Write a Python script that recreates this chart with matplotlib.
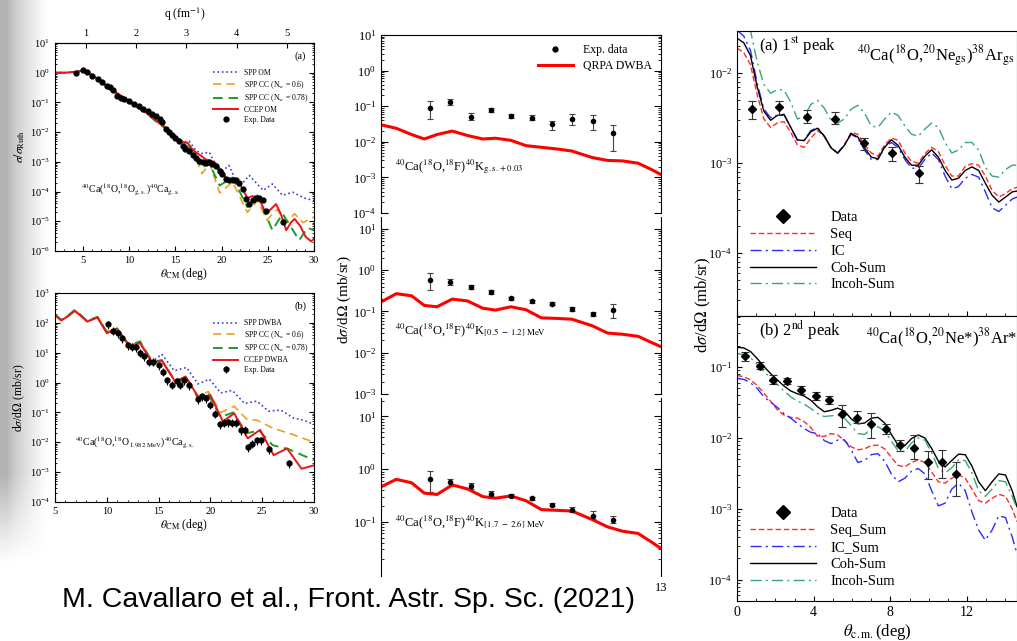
import matplotlib
matplotlib.use('Agg')
import numpy as np
import matplotlib.pyplot as plt
from matplotlib.lines import Line2D
from matplotlib.ticker import LogLocator, NullFormatter, MultipleLocator, FixedLocator

W, H = 1017, 641

# ---------------- left (a): elastic 40Ca(18O,18O)40Ca ----------------
a_exp_th = [4.3, 5.0, 5.5, 6.0, 6.6, 7.1, 7.6, 7.9, 8.3, 8.7, 9.1, 9.5, 10.0, 10.5, 11.1, 11.5,
            12.0, 12.5, 12.9, 13.3, 13.6, 14.0, 14.3, 14.7, 15.0, 15.4, 15.8, 16.1, 16.5, 16.9,
            17.2, 17.6, 18.0, 18.3, 18.7, 19.0, 19.4, 19.8, 20.1, 20.5, 20.8, 21.2, 21.6, 21.9,
            22.3, 22.7, 23.0, 23.4, 23.7, 24.1, 24.5, 24.8, 26.6]
a_exp_val = [0.98, 1.2, 1.05, 0.78, 0.63, 0.49, 0.35, 0.32, 0.26, 0.17, 0.14, 0.13, 0.11, 0.09,
             0.074, 0.062, 0.05, 0.042, 0.034, 0.028, 0.022, 0.013, 0.0099, 0.008, 0.0064, 0.005,
             0.0033, 0.0028, 0.0023, 0.0017, 0.0013, 0.0011, 0.001, 0.00093, 0.001, 0.00087,
             0.0007, 0.0005, 0.00039, 0.00027, 0.00024, 0.00024, 0.00025, 0.0002, 0.00012,
             5.6e-5, 3.8e-5, 5.2e-5, 6e-5, 6e-5, 5.2e-5, 2.3e-5, 9.4e-6]

a_red_th = [2, 3, 4, 4.5, 5, 5.5, 6, 7, 8, 9, 10, 11, 12, 13, 14, 15, 15.7, 16.3, 16.8, 17.3,
            17.8, 18.3, 18.8, 19.3, 19.8, 20.3, 20.8, 21.3, 21.8, 22.3, 22.8, 23.3, 23.8, 24.3,
            24.8, 25.3, 25.9, 26.4, 27.0, 27.5, 27.9, 28.5, 29.1, 29.7, 30]
a_red_val = [1.0, 1.0, 1.05, 1.1, 1.2, 1.1, 0.85, 0.5, 0.3, 0.18, 0.11, 0.07, 0.042, 0.024,
             0.014, 0.0075, 0.0048, 0.0045, 0.0028, 0.002, 0.0016, 0.0012, 0.0011, 0.00095,
             0.0006, 0.00035, 0.00022, 0.00025, 0.00022, 0.00012, 6e-5, 7e-5, 6.5e-5, 4e-5,
             1.8e-5, 2.5e-5, 3.8e-5, 1.8e-5, 5e-6, 9e-6, 1.2e-5, 7e-6, 3e-6, 2.1e-6, 2.6e-6]

a_common_th = [2, 3, 4, 4.5, 5, 5.5, 6, 7, 8, 9, 10, 11, 12, 13, 14, 15, 16]
a_common_val = [1.0, 1.0, 1.05, 1.1, 1.15, 1.05, 0.8, 0.47, 0.28, 0.17, 0.1, 0.065, 0.04,
                0.022, 0.013, 0.007, 0.004]
a_blue_th = [16.5, 17.2, 17.8, 18.7, 19.8, 20.8, 21.9, 23.0, 24.5, 25.5, 26.6, 27.7, 29.0, 30]
a_blue_val = [5e-3, 2.5e-3, 1.9e-3, 2.1e-3, 4e-4, 7.6e-4, 1.4e-4, 3.5e-4, 1.1e-4, 1.8e-4,
              7.5e-5, 9.5e-5, 6e-5, 5e-5]
a_orange_th = [17.0, 17.9, 18.7, 19.8, 21.2, 22.8, 23.9, 24.9, 26.0, 27.0, 27.9, 28.8, 30]
a_orange_val = [2e-3, 4e-4, 9e-4, 9e-5, 2.1e-4, 2e-5, 5e-5, 1.1e-5, 2.5e-5, 9e-6, 1.8e-5,
                9e-6, 1.4e-5]
a_green_th = [17.0, 17.9, 18.6, 19.8, 21.2, 22.8, 23.9, 25.5, 26.6, 28.4, 29.3, 30]
a_green_val = [2.2e-3, 6e-4, 1e-3, 1.6e-4, 3e-4, 3e-5, 7.5e-5, 5e-6, 1.8e-5, 2.3e-6, 6e-6, 5e-6]

# ---------------- left (b): inelastic 18O 1.982 MeV ----------------
b_exp_th = [10.1, 10.6, 11.1, 11.5, 12.0, 12.4, 12.8, 13.2, 13.6, 14.1, 14.5, 15.0, 15.4, 15.8,
            16.3, 16.8, 17.1, 17.5, 17.9, 18.8, 19.2, 19.6, 20.0, 20.4, 20.9, 21.3, 21.7, 22.1,
            22.5, 23.0, 23.3, 23.6, 24.0, 24.5, 24.9, 25.7, 27.6]
b_exp_val = [90, 55, 45, 30, 18, 16, 15, 10, 7.5, 5, 5, 3.8, 2.3, 1.2, 0.85, 1.1, 0.85, 1.2,
             0.8, 0.28, 0.35, 0.3, 0.18, 0.09, 0.04, 0.045, 0.046, 0.045, 0.045, 0.025, 0.026,
             0.007, 0.009, 0.012, 0.012, 0.006, 0.002]
b_red_th = [5.0, 5.6, 6.3, 6.9, 7.5, 8.1, 9.1, 10.0, 11.0, 12.2, 13.2, 14.4, 15.3, 16.6, 17.6,
            18.9, 20.0, 21.2, 22.3, 23.6, 24.8, 26.1, 27.4, 28.8, 30]
b_red_val = [180, 120, 170, 250, 170, 110, 150, 45, 62, 16, 21, 4.5, 5.5, 1.07, 1.6, 0.3,
             0.38, 0.05, 0.093, 0.0135, 0.026, 0.0037, 0.0062, 0.0013, 0.0017]
b_common_th = [5.0, 5.6, 6.3, 6.9, 7.5, 8.1, 9.1, 10.0, 11.0, 12.2, 13.2, 14.4]
b_common_val = [190, 125, 180, 270, 180, 115, 160, 50, 65, 17, 24, 5.0]
b_blue_th = [15.3, 16.5, 17.7, 18.8, 19.9, 21.0, 22.1, 23.3, 24.5, 25.6, 26.8, 28.0, 29.0, 30]
b_blue_val = [9, 2.5, 3.2, 0.9, 1.3, 0.45, 0.55, 0.2, 0.24, 0.11, 0.12, 0.065, 0.055, 0.04]
b_orange_th = [15.3, 16.6, 17.7, 18.8, 19.8, 21.0, 22.3, 23.5, 24.5, 26.0, 28.0, 30]
b_orange_val = [5.8, 1.2, 1.5, 0.35, 0.5, 0.1, 0.16, 0.06, 0.055, 0.03, 0.018, 0.01]
b_green_th = [15.3, 16.6, 17.7, 18.8, 19.8, 21.0, 22.2, 23.5, 24.7, 26.0, 27.5, 30]
b_green_val = [5.6, 1.1, 1.4, 0.3, 0.4, 0.07, 0.1, 0.02, 0.025, 0.008, 0.006, 0.0025]

# ---------------- middle: single charge exchange 40Ca(18O,18F)40K ----------------
m_th = [3.92, 4.72, 5.52, 6.32, 7.12, 7.92, 8.72, 9.52, 10.32, 11.12]
m1_val = [0.091, 0.13, 0.051, 0.077, 0.053, 0.047, 0.031, 0.043, 0.038, 0.018]
m1_lo = [0.045, 0.11, 0.04, 0.068, 0.046, 0.04, 0.021, 0.03, 0.022, 0.0055]
m1_hi = [0.14, 0.16, 0.065, 0.09, 0.062, 0.056, 0.039, 0.06, 0.055, 0.03]
m2_val = [0.59, 0.52, 0.39, 0.30, 0.21, 0.18, 0.156, 0.114, 0.086, 0.11]
m2_lo = [0.33, 0.43, 0.35, 0.27, 0.195, 0.165, 0.145, 0.10, 0.076, 0.068]
m2_hi = [0.86, 0.63, 0.43, 0.33, 0.23, 0.195, 0.17, 0.13, 0.097, 0.15]
m3_val = [0.66, 0.57, 0.48, 0.34, 0.31, 0.28, 0.21, 0.17, 0.13, 0.11]
m3_lo = [0.37, 0.48, 0.42, 0.31, 0.29, 0.26, 0.195, 0.155, 0.115, 0.095]
m3_hi = [0.93, 0.66, 0.54, 0.38, 0.33, 0.30, 0.23, 0.19, 0.16, 0.13]

m_curve_th = [2.0, 2.6, 3.2, 3.7, 4.2, 4.8, 5.4, 6.0, 6.5, 7.1, 7.7, 8.3, 8.9, 9.5, 10.3, 10.9,
              11.5, 12.1, 12.6, 13.0]
m1_curve = [0.03, 0.024, 0.016, 0.012, 0.016, 0.02, 0.015, 0.012, 0.0126, 0.011, 0.0078,
            0.007, 0.0063, 0.0055, 0.0036, 0.003, 0.0029, 0.0025, 0.0017, 0.0012]
m2_curve = [0.17, 0.27, 0.24, 0.14, 0.13, 0.2, 0.18, 0.12, 0.108, 0.13, 0.11, 0.07, 0.068,
            0.065, 0.045, 0.03, 0.028, 0.025, 0.018, 0.014]
m3_curve = [0.46, 0.64, 0.55, 0.35, 0.33, 0.5, 0.42, 0.3, 0.28, 0.31, 0.25, 0.17, 0.165,
            0.16, 0.11, 0.08, 0.066, 0.06, 0.042, 0.031]

# ---------------- right: DCE 40Ca(18O,20Ne)38Ar ----------------
r_th = [0.0, 0.35, 0.7, 1.05, 1.4, 1.75, 2.1, 2.45, 2.8, 3.15, 3.5, 3.85, 4.2, 4.55, 4.9,
        5.25, 5.6, 5.95, 6.3, 6.65, 7.0, 7.35, 7.7, 8.05, 8.4, 8.75, 9.1, 9.45, 9.8, 10.15,
        10.5, 10.85, 11.2, 11.55, 11.9, 12.25, 12.6, 12.95, 13.3, 13.65, 14.0, 14.35, 14.6]
# (a) 1st peak
ra_coh = [0.0245, 0.0219, 0.0158, 0.0071, 0.0038, 0.0030, 0.0034, 0.00347, 0.00251, 0.00182,
          0.00178, 0.00224, 0.00245, 0.0020, 0.00148, 0.00129, 0.00158, 0.00214, 0.00195,
          0.00148, 0.00117, 0.00112, 0.00151, 0.00182, 0.00158, 0.00117, 0.00095, 0.00095,
          0.0012, 0.00141, 0.00117, 0.00083, 0.00065, 0.00068, 0.00083, 0.00091, 0.00083,
          0.0006, 0.00044, 0.00037, 0.00042, 0.00048, 0.00049]
ra_seq = [0.019, 0.017, 0.0125, 0.0058, 0.0031, 0.0025, 0.0028, 0.0029, 0.0022, 0.0016,
          0.0015, 0.0019, 0.0023, 0.0020, 0.0015, 0.0013, 0.0016, 0.0022, 0.0021, 0.0016,
          0.0013, 0.0012, 0.0016, 0.0019, 0.0018, 0.0013, 0.00105, 0.001, 0.00128, 0.0015,
          0.00135, 0.00095, 0.00072, 0.00072, 0.00092, 0.00099, 0.00095, 0.00072, 0.0005,
          0.00042, 0.00046, 0.00052, 0.00054]
ra_ic = [0.03, 0.026, 0.018, 0.0078, 0.0040, 0.0032, 0.0034, 0.0035, 0.0025, 0.0018, 0.0018,
         0.0023, 0.0025, 0.0020, 0.0015, 0.0013, 0.0016, 0.0021, 0.0019, 0.0014, 0.0011,
         0.0011, 0.0015, 0.0017, 0.0015, 0.0011, 0.00088, 0.00088, 0.0011, 0.0013, 0.0011,
         0.00072, 0.00052, 0.00055, 0.00068, 0.00075, 0.0007, 0.00048, 0.00032, 0.00029,
         0.00034, 0.0004, 0.00042]
ra_incoh = [0.05, 0.042, 0.03, 0.0135, 0.0075, 0.006, 0.0066, 0.0065, 0.0048, 0.0031, 0.0033,
            0.0045, 0.005, 0.0041, 0.003, 0.0028, 0.0031, 0.004, 0.0044, 0.0036, 0.0026,
            0.0025, 0.0031, 0.0037, 0.0034, 0.0026, 0.0021, 0.002, 0.0024, 0.0028, 0.0025,
            0.0017, 0.0013, 0.0014, 0.0017, 0.0017, 0.0014, 0.0009, 0.00072, 0.0007, 0.00085,
            0.00095, 0.00095]
ra_exp_th = [0.77, 2.2, 3.65, 5.1, 6.6, 8.07, 9.5]
ra_exp_val = [0.0040, 0.0042, 0.0033, 0.0031, 0.00167, 0.0013, 0.00077]
ra_exp_lo = [0.0031, 0.0034, 0.0028, 0.0027, 0.0014, 0.00106, 0.0006]
ra_exp_hi = [0.0049, 0.0049, 0.0039, 0.0037, 0.0019, 0.0015, 0.00093]

# (b) 2nd peak
rb_coh = [0.19, 0.186, 0.166, 0.132, 0.102, 0.081, 0.066, 0.054, 0.046, 0.042, 0.039, 0.034,
          0.0275, 0.0234, 0.0245, 0.0263, 0.024, 0.0186, 0.0158, 0.0162, 0.019, 0.0195, 0.0162,
          0.0112, 0.0079, 0.0078, 0.0098, 0.011, 0.01, 0.0071, 0.0047, 0.0039, 0.0048, 0.0059,
          0.0058, 0.004, 0.0024, 0.0018, 0.0024, 0.0031, 0.003, 0.0018, 0.00107]
rb_incoh = [0.155, 0.15, 0.135, 0.11, 0.087, 0.07, 0.057, 0.046, 0.038, 0.033, 0.03, 0.026,
            0.022, 0.02, 0.0205, 0.021, 0.019, 0.015, 0.0115, 0.0112, 0.0135, 0.0144, 0.0125,
            0.009, 0.0066, 0.0064, 0.0085, 0.01, 0.0093, 0.0062, 0.0037, 0.0032, 0.0038,
            0.0049, 0.0048, 0.0032, 0.0018, 0.0015, 0.0019, 0.0025, 0.0024, 0.0015, 0.001]
rb_seq = [0.076, 0.073, 0.066, 0.055, 0.043, 0.033, 0.025, 0.021, 0.0195, 0.019, 0.017, 0.014,
          0.0105, 0.0105, 0.0115, 0.011, 0.0092, 0.0075, 0.0068, 0.007, 0.0078, 0.0079, 0.007,
          0.0053, 0.0041, 0.0039, 0.0045, 0.0049, 0.0045, 0.0033, 0.0024, 0.0023, 0.0027,
          0.003, 0.0027, 0.0019, 0.0013, 0.0012, 0.0014, 0.0016, 0.0015, 0.001, 0.00066]
rb_ic = [0.069, 0.067, 0.06, 0.05, 0.038, 0.032, 0.027, 0.022, 0.019, 0.016, 0.0135, 0.012,
         0.0115, 0.0092, 0.0083, 0.0093, 0.0094, 0.0068, 0.0045, 0.0048, 0.0058, 0.006, 0.0047,
         0.0031, 0.0024, 0.0027, 0.0034, 0.0037, 0.0031, 0.0018, 0.0011, 0.0012, 0.0019,
         0.0023, 0.0018, 0.0009, 0.0005, 0.00036, 0.0005, 0.0008, 0.00075, 0.0004, 0.00023]
rb_exp_th = [0.4, 1.18, 1.88, 2.6, 3.35, 4.1, 4.8, 5.5, 6.25, 7.0, 7.75, 8.5, 9.25, 9.95,
             10.7, 11.4]
rb_exp_val = [0.141, 0.105, 0.066, 0.063, 0.047, 0.039, 0.034, 0.0216, 0.019, 0.0156, 0.0135,
              0.0079, 0.0073, 0.0045, 0.0046, 0.0031]
rb_exp_lo = [0.123, 0.095, 0.057, 0.057, 0.041, 0.034, 0.030, 0.0143, 0.016, 0.0101, 0.0115,
             0.0065, 0.0050, 0.0026, 0.0027, 0.0015]
rb_exp_hi = [0.162, 0.116, 0.078, 0.071, 0.054, 0.044, 0.039, 0.029, 0.024, 0.0225, 0.0157,
             0.0092, 0.0109, 0.0066, 0.0068, 0.0045]

plt.rcParams['font.family'] = ['Liberation Serif', 'DejaVu Serif']
plt.rcParams['mathtext.fontset'] = 'stix'


def box(x0, y0, x1, y1):
    # pixel box (top-left origin) -> figure fraction rect
    return [x0 / W, 1 - y1 / H, (x1 - x0) / W, (y1 - y0) / H]


def ftxt(x, y, s, **kw):
    fig.text(x / W, 1 - y / H, s, **kw)


def log_ticks(ax, size, both=False, minor_len=2.0):
    ax.set_yscale('log')
    ax.yaxis.set_major_locator(LogLocator(base=10, numticks=20))
    ax.yaxis.set_minor_locator(LogLocator(base=10, subs=np.arange(2, 10), numticks=20))
    ax.yaxis.set_minor_formatter(NullFormatter())
    ax.tick_params(which='both', direction='in', labelsize=size, right=both)
    ax.tick_params(which='minor', length=minor_len)


def errs(val, lo, hi):
    v = np.array(val)
    return [v - np.array(lo), np.array(hi) - v]


fig = plt.figure(figsize=(W / 100, H / 100), dpi=100)

# shadow on the left edge of the slide
gax = fig.add_axes([0, 0, 48 / W, 1])
gx = np.linspace(0, 1, 60)
gy = np.linspace(0, 1, 200)
shade = (0.70 + 0.30 * np.clip((gx - 0.15) / 0.85, 0, 1) ** 0.7)[None, :]
shade = shade + (1 - shade) * np.clip((0.26 - gy) / 0.14, 0, 1)[:, None]
gax.imshow(shade, cmap='gray', vmin=0, vmax=1, aspect='auto', extent=[0, 1, 0, 1],
           origin='lower')
gax.axis('off')

blue_c, orange_c, green_c, red_c = '#3b3bd8', '#f0a020', '#1e9a2a', '#e8141a'

# ---- left (a)
ax = fig.add_axes(box(55, 43, 314, 251))
ax.plot(a_common_th + a_blue_th, a_common_val + a_blue_val, ':', color=blue_c, lw=1.2,
        label='SPP OM')
ax.plot(a_common_th + a_orange_th, a_common_val + a_orange_val, '--', color=orange_c, lw=1.2,
        dashes=(5, 3), label=r'SPP CC (N$_{\rm w}$ = 0.6)')
ax.plot(a_common_th + a_green_th, a_common_val + a_green_val, '--', color=green_c, lw=1.4,
        dashes=(5, 3), label=r'SPP CC (N$_{\rm w}$ = 0.78)')
ax.plot(a_red_th, a_red_val, '-', color=red_c, lw=1.4, label='CCEP OM')
ax.plot(a_exp_th, a_exp_val, 'o', color='black', ms=3.5, label='Exp. Data')
log_ticks(ax, 7.5, both=True, minor_len=1.5)
ax.set_xlim(2, 30)
ax.set_ylim(1e-6, 1e1)
ax.xaxis.set_minor_locator(MultipleLocator(1))
ax.tick_params(axis='x', which='both', top=False)
ax.set_xticks([5, 10, 15, 20, 25, 30])
ax.legend(loc='upper right', bbox_to_anchor=(1.0, 0.9), fontsize=5.5, frameon=False,
          handlelength=3.2, labelspacing=0.25, borderpad=0.2)
ax.text(0.97, 0.96, '(a)', transform=ax.transAxes, ha='right', va='top', fontsize=7.5)
ax.text(0.1, 0.28, r'$^{40}$Ca($^{18}$O,$^{18}$O$_{\rm g.s.}$)$^{40}$Ca$_{\rm g.s.}$',
        transform=ax.transAxes, fontsize=7)
qax = ax.secondary_xaxis('top', functions=(lambda t: t / 5.45 + 0.027,
                                            lambda q: (q - 0.027) * 5.45))
qax.set_xticks([1, 2, 3, 4, 5])
qax.tick_params(direction='in', labelsize=7.5)
qax.set_xlabel(r'q (fm$^{-1}$)', fontsize=8.5, labelpad=8)
ax.set_xlabel(r'$\theta_{\rm CM}$ (deg)', fontsize=8.5, labelpad=1)
ax.set_ylabel(r'$\sigma/\sigma_{\rm Ruth}$', fontsize=8.5, labelpad=2)

# ---- left (b)
ax = fig.add_axes(box(55, 293, 314, 502))
ax.plot(b_common_th + b_blue_th, b_common_val + b_blue_val, ':', color=blue_c, lw=1.2,
        label='SPP DWBA')
ax.plot(b_common_th + b_orange_th, b_common_val + b_orange_val, '--', color=orange_c,
        lw=1.2, dashes=(5, 3), label=r'SPP CC (N$_{\rm w}$ = 0.6)')
ax.plot(b_common_th + b_green_th, b_common_val + b_green_val, '--', color=green_c,
        lw=1.4, dashes=(5, 3), label=r'SPP CC (N$_{\rm w}$ = 0.78)')
ax.plot(b_red_th, b_red_val, '-', color=red_c, lw=1.4, label='CCEP DWBA')
ax.errorbar(b_exp_th, b_exp_val, yerr=[np.array(b_exp_val) * 0.3, np.array(b_exp_val) * 0.3],
            fmt='o', color='black', ms=3.5, elinewidth=0.8, capsize=0, label='Exp. Data')
log_ticks(ax, 7.5, both=True, minor_len=1.5)
ax.set_xlim(5, 30)
ax.set_ylim(1e-4, 1e3)
ax.xaxis.set_minor_locator(MultipleLocator(1))
ax.set_xticks([5, 10, 15, 20, 25, 30])
ax.legend(loc='upper right', bbox_to_anchor=(1.0, 0.9), fontsize=5.5, frameon=False,
          handlelength=3.2, labelspacing=0.25, borderpad=0.2)
ax.text(0.97, 0.96, '(b)', transform=ax.transAxes, ha='right', va='top', fontsize=7.5)
ax.text(0.077, 0.27,
        r'$^{40}$Ca($^{18}$O,$^{18}$O$_{\,1.982\ \rm MeV}$)$^{40}$Ca$_{\rm g.s.}$',
        transform=ax.transAxes, fontsize=7)
ax.set_xlabel(r'$\theta_{\rm CM}$ (deg)', fontsize=8.5, labelpad=1)
ax.set_ylabel(r'd$\sigma$/d$\Omega$ (mb/sr)', fontsize=8.5, labelpad=2)

# ---- middle column
mid = [(box(381, 35, 661, 213), (1e-4, 1e1), m1_val, m1_lo, m1_hi, m1_curve,
        r'$^{40}$Ca($^{18}$O,$^{18}$F)$^{40}$K$_{\rm g.s. + 0.03}$', 167),
       (box(381, 217, 661, 394), (1e-3, 10 ** 1.29), m2_val, m2_lo, m2_hi, m2_curve,
        r'$^{40}$Ca($^{18}$O,$^{18}$F)$^{40}$K$_{[0.5\ -\ 1.2]\ \rm MeV}$', 330),
       (box(381, 398, 661, 576), (10 ** -2.03, 10 ** 1.35), m3_val, m3_lo, m3_hi, m3_curve,
        r'$^{40}$Ca($^{18}$O,$^{18}$F)$^{40}$K$_{[1.7\ -\ 2.6]\ \rm MeV}$', 522)]
for i, (rect, ylim, val, lo, hi, curve, lab, ty) in enumerate(mid):
    ax = fig.add_axes(rect)
    ax.errorbar(m_th, val, yerr=errs(val, lo, hi), fmt='o', color='black', ms=3,
                elinewidth=0.8, ecolor='#444444', capsize=2, capthick=0.8)
    ax.plot(m_curve_th, curve, '-', color='#ff0000', lw=2.2)
    log_ticks(ax, 9, both=True, minor_len=2.5)
    ax.tick_params(which='major', length=5)
    ax.set_xlim(2, 13)
    ax.set_ylim(*ylim)
    ax.spines['bottom'].set_visible(False)
    if i > 0:
        ax.spines['top'].set_visible(False)
    if i < 2:
        ax.set_xticks([])
    else:
        # lower part of this panel is hidden behind the caption on the slide
        ax.yaxis.set_major_locator(FixedLocator([0.1, 1, 10]))
        ax.yaxis.set_minor_locator(FixedLocator(
            [k * 10.0 ** e for e in (-2, -1, 0, 1) for k in range(2, 10)
             if 0.018 < k * 10.0 ** e < ylim[1]]))
        ax.set_xticks([13])
        ax.tick_params(axis='x', length=0, labelsize=9, pad=4)
    if i == 0:
        hd = [Line2D([], [], marker='o', ls='none', color='black', ms=3.5),
              Line2D([], [], color='#ff0000', lw=2.2)]
        ax.legend(hd, ['Exp. data', 'QRPA DWBA'], loc='upper right', fontsize=8.5,
                  frameon=False, handlelength=3, borderpad=0.3, labelspacing=0.3)
    ftxt(395, ty, lab, fontsize=9, va='center')
ftxt(344, 300, r'd$\sigma$/d$\Omega$ (mb/sr)', fontsize=11, rotation=90, ha='center',
     va='center')

# ---- right column
rx = (0, 14.6)
data_h = Line2D([], [], marker='D', ls='none', color='black', ms=7)
dd = (8, 3, 1.5, 3)

ax = fig.add_axes(box(737, 31, 1017, 316))
ax.plot(r_th, ra_seq, '--', color='#ff2a2a', lw=1.0, dashes=(4, 2), label='Seq')
ax.plot(r_th, ra_ic, '-.', color='#2a2aff', lw=1.0, dashes=dd, label='IC')
ax.plot(r_th, ra_coh, '-', color='black', lw=1.0, label='Coh-Sum')
ax.plot(r_th, ra_incoh, '-.', color='#3aa870', lw=1.0, dashes=dd, label='Incoh-Sum')
ax.errorbar(ra_exp_th, ra_exp_val, yerr=errs(ra_exp_val, ra_exp_lo, ra_exp_hi), fmt='D',
            color='black', ms=4, elinewidth=0.8, ecolor='#333333', capsize=3, capthick=0.8)
log_ticks(ax, 9, minor_len=2.5)
ax.set_xlim(*rx)
ax.set_ylim(2e-5, 10 ** -1.53)
ax.xaxis.set_major_locator(MultipleLocator(4))
ax.xaxis.set_minor_locator(MultipleLocator(1))
ax.tick_params(axis='x', which='both', labelbottom=False)
h, l = ax.get_legend_handles_labels()
ax.legend([data_h] + h, ['Data'] + l, loc='lower left', bbox_to_anchor=(0.0, 0.04),
          fontsize=10.5, frameon=False, handlelength=4.5, labelspacing=0.25,
          handletextpad=1.0)
ax.text(0.08, 0.947, r'(a) 1$^{\rm st}$ peak', transform=ax.transAxes, fontsize=12,
        va='center')
ax.text(0.99, 0.91, r'$^{40}$Ca($^{18}$O,$^{20}$Ne$_{\rm gs}$)$^{38}$Ar$_{\rm gs}$',
        transform=ax.transAxes, fontsize=12, va='center', ha='right')

ax = fig.add_axes(box(737, 316, 1017, 601))
ax.plot(r_th, rb_seq, '--', color='#ff2a2a', lw=1.0, dashes=(4, 2), label='Seq_Sum')
ax.plot(r_th, rb_ic, '-.', color='#2a2aff', lw=1.0, dashes=dd, label='IC_Sum')
ax.plot(r_th, rb_coh, '-', color='black', lw=1.0, label='Coh-Sum')
ax.plot(r_th, rb_incoh, '-.', color='#3aa870', lw=1.0, dashes=dd, label='Incoh-Sum')
ax.errorbar(rb_exp_th, rb_exp_val, yerr=errs(rb_exp_val, rb_exp_lo, rb_exp_hi), fmt='D',
            color='black', ms=4, elinewidth=0.8, ecolor='#333333', capsize=3, capthick=0.8)
log_ticks(ax, 9, minor_len=2.5)
ax.set_xlim(*rx)
ax.set_ylim(5e-5, 10 ** -0.28)
ax.xaxis.set_major_locator(MultipleLocator(4))
ax.xaxis.set_minor_locator(MultipleLocator(1))
ax.tick_params(axis='x', which='both', labelsize=10)
h, l = ax.get_legend_handles_labels()
ax.legend([data_h] + h, ['Data'] + l, loc='lower left', bbox_to_anchor=(0.0, 0.0),
          fontsize=10.5, frameon=False, handlelength=4.5, labelspacing=0.25,
          handletextpad=1.0)
ax.text(0.08, 0.95, r'(b) 2$^{\rm nd}$ peak', transform=ax.transAxes, fontsize=12,
        va='center')
ax.text(1.0, 0.923, r'$^{40}$Ca($^{18}$O,$^{20}$Ne*)$^{38}$Ar*', transform=ax.transAxes,
        fontsize=12, va='center', ha='right')
ax.set_xlabel(r'$\theta_{\rm c.m.}$(deg)', fontsize=12, labelpad=2)
ftxt(703, 305, r'd$\sigma$/d$\Omega$ (mb/sr)', fontsize=12, rotation=90, ha='center',
     va='center')

# caption
ftxt(62, 600, 'M. Cavallaro et al., Front. Astr. Sp. Sc. (2021)', family='Liberation Sans',
     fontsize=20.5, va='center', ha='left')

fig.savefig('out.png', dpi=100)
